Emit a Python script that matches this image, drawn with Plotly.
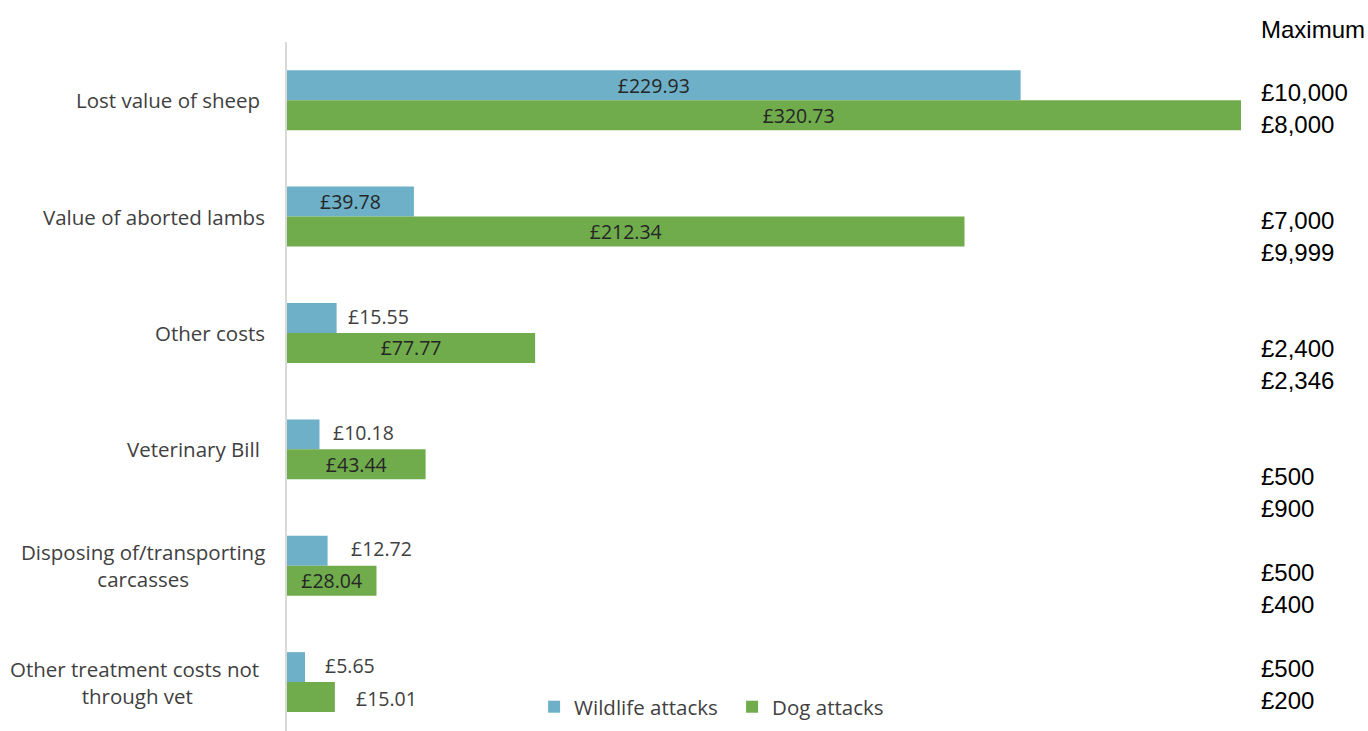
import plotly.graph_objects as go

# Cost categories, top to bottom
categories = [
    "Lost value of sheep\u00a0",
    "Value of aborted lambs",
    "Other costs",
    "Veterinary Bill\u00a0",
    "Disposing of/transporting<br>carcasses",
    "Other treatment costs not\u00a0<br>through vet",
]

# Average cost per attack (£)
wildlife = [229.93, 39.78, 15.55, 10.18, 12.72, 5.65]
dog = [320.73, 212.34, 77.77, 43.44, 28.04, 15.01]

# Labels drawn inside the bar (True) or just past its end (False)
wildlife_inside = [True, True, False, False, False, False]
dog_inside = [True, True, True, True, True, False]
# Gap in pixels between a bar end and its outside label
wildlife_gap = [0, 0, 11, 14, 23, 20]
dog_gap = [0, 0, 0, 0, 0, 21]

# Maximum reported costs (wildlife, dog) per category
maximum_header = "Maximum"
maximum_values = ["£10,000", "£8,000", "£7,000", "£9,999", "£2,400", "£2,346",
                  "£500", "£900", "£500", "£400", "£500", "£200"]

BLUE = "#6DB0C8"
GREEN = "#70AB4C"
LABEL_FONT = "Open Sans, Noto Sans, sans-serif"
SIDE_FONT = "Liberation Sans, Arial, sans-serif"
VALUE_SIZE = 19.5

y_idx = list(range(len(categories)))


def fmt(v):
    return f"£{v:.2f}"


fig = go.Figure()
for name, vals, inside, color in [
    ("Wildlife attacks", wildlife, wildlife_inside, BLUE),
    ("Dog attacks", dog, dog_inside, GREEN),
]:
    fig.add_trace(go.Bar(
        name=name, y=y_idx, x=vals, orientation="h",
        marker=dict(color=color, line=dict(width=0)),
        text=[fmt(v) if ins else "" for v, ins in zip(vals, inside)],
        textposition="inside", insidetextanchor="middle",
        constraintext="none", cliponaxis=True,
        insidetextfont=dict(family=LABEL_FONT, size=VALUE_SIZE, color="#262626"),
    ))

annotations = []

# Outside value labels, placed just past each short bar
bar_offset = {0: -0.145, 1: 0.145}
for trace_i, (vals, inside, gaps) in enumerate([
    (wildlife, wildlife_inside, wildlife_gap),
    (dog, dog_inside, dog_gap),
]):
    for i, (v, ins, g) in enumerate(zip(vals, inside, gaps)):
        if ins:
            continue
        annotations.append(dict(
            x=v, xref="x", y=i + bar_offset[trace_i], yref="y", text=fmt(v),
            showarrow=False, xanchor="left", yanchor="middle", xshift=g - 2,
            font=dict(family=LABEL_FONT, size=VALUE_SIZE, color="#404040"),
        ))

# Category labels, each line centred
for i, cat in enumerate(categories):
    annotations.append(dict(
        x=0, xref="paper", y=i, yref="y", text=cat, showarrow=False,
        xanchor="right", yanchor="middle", align="center", xshift=-20,
        font=dict(family=LABEL_FONT, size=20.5, color="#404040"),
    ))

# Right-hand "Maximum" column
annotations.append(dict(
    x=1, xref="paper", y=1, yref="paper", text=maximum_header, showarrow=False,
    xanchor="left", yanchor="middle", xshift=18, yshift=13,
    font=dict(family=SIDE_FONT, size=24, color="#000000"),
))
side_offsets = [50, 82, 178, 210, 306, 338, 434, 466, 530, 562, 626, 658]
for val, off in zip(maximum_values, side_offsets):
    annotations.append(dict(
        x=1, xref="paper", y=1, yref="paper", text=val, showarrow=False,
        xanchor="left", yanchor="middle", xshift=18, yshift=-off,
        font=dict(family=SIDE_FONT, size=24, color="#000000"),
    ))

fig.update_layout(
    width=1368, height=731,
    margin=dict(l=287, r=127, t=42, b=0),
    paper_bgcolor="white", plot_bgcolor="white",
    barmode="group", bargap=0.485, bargroupgap=0,
    showlegend=True,
    legend=dict(
        orientation="h", traceorder="normal",
        x=0.259, y=0.035, xanchor="left", yanchor="middle",
        font=dict(family=LABEL_FONT, size=20.5, color="#404040"),
        itemwidth=30, entrywidth=153, entrywidthmode="pixels",
        bgcolor="rgba(0,0,0,0)",
    ),
    xaxis=dict(range=[0, 299], showgrid=False, zeroline=False,
               showticklabels=False, showline=False, fixedrange=True),
    yaxis=dict(range=[5.42, -0.5], showgrid=False, zeroline=False,
               showticklabels=False, showline=True, linecolor="#D9D9D9",
               linewidth=2, fixedrange=True),
    annotations=annotations,
)

fig.write_html("out.html")
